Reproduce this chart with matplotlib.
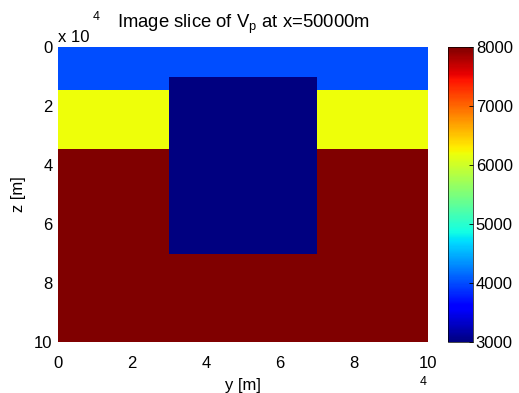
import numpy as np
import matplotlib
matplotlib.use("Agg")
import matplotlib.pyplot as plt

plt.rcParams['font.family'] = ['Liberation Sans', 'DejaVu Sans']

# Layered model (z in m, velocity in m/s)
layer_top = [0, 14500, 34500]
layer_bottom = [14500, 34500, 100000]
layer_vp = [4000, 6200, 8000]
# Embedded block
block_y = [30000, 70000]
block_z = [10000, 70000]
block_vp = 3000
y_extent = [0, 100000]
tick_vals = [0, 2, 4, 6, 8, 10]
cbar_ticks = [3000, 4000, 5000, 6000, 7000, 8000]

y_edges = np.unique(np.array(y_extent + block_y, dtype=float))
z_edges = np.unique(np.array(layer_top + layer_bottom + block_z, dtype=float))
yc = 0.5 * (y_edges[:-1] + y_edges[1:])
zc = 0.5 * (z_edges[:-1] + z_edges[1:])
V = np.zeros((len(zc), len(yc)))
for i, z in enumerate(zc):
    for t, b, v in zip(layer_top, layer_bottom, layer_vp):
        if t <= z < b:
            V[i, :] = v
    for j, y in enumerate(yc):
        if block_y[0] <= y <= block_y[1] and block_z[0] <= z <= block_z[1]:
            V[i, j] = block_vp

fig = plt.figure(figsize=(5.19, 3.93), dpi=100)
ax = fig.add_axes([58/519, 1-342/393, 370/519, 295/393])
mesh = ax.pcolormesh(y_edges, z_edges, V, cmap='jet', vmin=3000, vmax=8000, shading='flat')
ax.set_xlim(0, 100000)
ax.set_ylim(100000, 0)
ax.set_xticks([t * 1e4 for t in tick_vals])
ax.set_xticklabels([str(t) for t in tick_vals])
ax.set_yticks([t * 1e4 for t in tick_vals])
ax.set_yticklabels([str(t) for t in tick_vals])
ax.tick_params(axis='y', length=0, labelsize=12, pad=4)
ax.tick_params(axis='x', length=0, labelsize=12, pad=10)
for s in ax.spines.values():
    s.set_visible(False)
ax.set_xlabel('y [m]', fontsize=12, labelpad=5)
ax.set_ylabel('z [m]', fontsize=12, labelpad=6)
ax.set_title('Image slice of V$_\\mathregular{p}$ at x=50000m', fontsize=13.3, pad=14)

# MATLAB-style exponent labels
fig.text(58/519, 1-37/393, 'x 10', fontsize=12, ha='left', va='center')
fig.text(96/519, 1-17/393, '4', fontsize=9, ha='center', va='center')
fig.text(423/519, 1-382/393, '4', fontsize=9, ha='center', va='center')

cax = fig.add_axes([448/519, 1-342/393, 25/519, 295/393])
cb = fig.colorbar(mesh, cax=cax, ticks=cbar_ticks)
cb.ax.tick_params(labelsize=12, direction='in', length=3, width=0.6, pad=2)
cb.outline.set_linewidth(0.5)

fig.savefig('out.png', dpi=100)
